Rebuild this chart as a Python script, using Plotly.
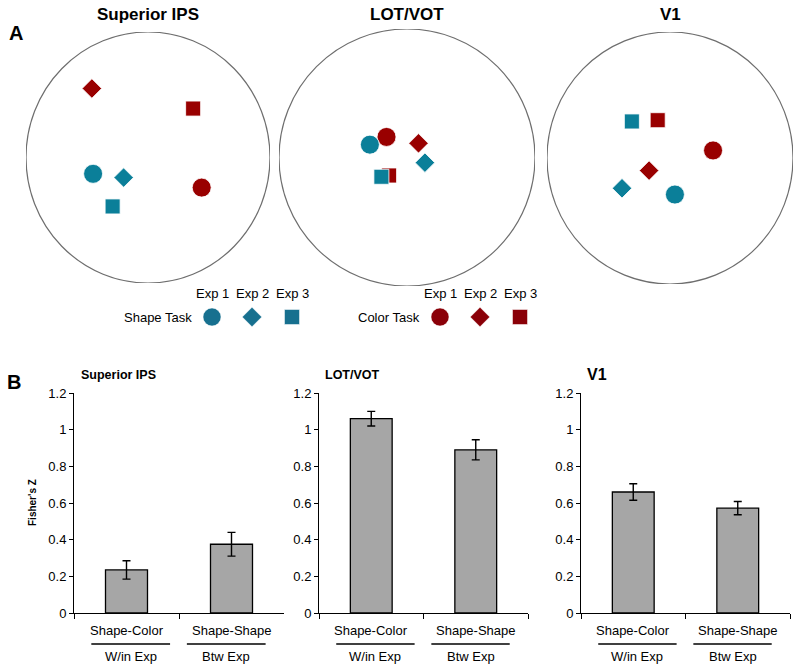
import plotly.graph_objects as go

W, H = 800, 669

# ---------------- data ----------------
regions = ["Superior IPS", "LOT/VOT", "V1"]
exps = ["Exp 1", "Exp 2", "Exp 3"]
tasks = ["Shape Task", "Color Task"]

# MDS coordinates (normalised to the circle radius), order: Exp 1, Exp 2, Exp 3
shape_x = {"Superior IPS": [-0.45, -0.20, -0.29],
           "LOT/VOT": [-0.29, 0.14, -0.20],
           "V1": [0.04, -0.39, -0.31]}
shape_y = {"Superior IPS": [-0.13, -0.16, -0.39],
           "LOT/VOT": [0.10, -0.04, -0.15],
           "V1": [-0.29, -0.24, 0.29]}
color_x = {"Superior IPS": [0.44, -0.46, 0.37],
           "LOT/VOT": [-0.16, 0.09, -0.14],
           "V1": [0.35, -0.17, -0.10]}
color_y = {"Superior IPS": [-0.24, 0.55, 0.39],
           "LOT/VOT": [0.16, 0.11, -0.14],
           "V1": [0.06, -0.10, 0.30]}

categories = ["Shape-Color", "Shape-Shape"]
group_labels = ["W/in Exp", "Btw Exp"]
fisher_z = {"Superior IPS": [0.235, 0.375], "LOT/VOT": [1.06, 0.89], "V1": [0.66, 0.572]}
fisher_err = {"Superior IPS": [0.05, 0.065], "LOT/VOT": [0.04, 0.055], "V1": [0.045, 0.036]}
y_ticks = [0, 0.2, 0.4, 0.6, 0.8, 1, 1.2]

# ---------------- style ----------------
FONT = "Liberation Sans, Arial, sans-serif"
TEAL = "#0b7f99"
TEAL_LEG = "#17708f"
RED = "#990000"
RED_LEG = "#8a0008"
SYMBOLS = ["circle", "diamond", "square"]
SIZES = [19, 15, 15]
LEG_SIZES = [18, 15, 15]


def px(x):
    return x / W


def py(y):
    return 1 - y / H


def label(text, x, y, size=13, xref="paper", xanchor="center", **kw):
    return dict(text=text, x=x, y=y, xref=xref, yref="paper", xanchor=xanchor,
                yanchor="middle", showarrow=False, font=dict(size=size, family=FONT), **kw)


fig = go.Figure()
layout = dict(width=W, height=H, margin=dict(l=0, r=0, t=0, b=0, autoexpand=False),
              autosize=False, paper_bgcolor="white", plot_bgcolor="white",
              showlegend=False, font=dict(family=FONT, color="black"))
shapes = []
annotations = []

# ---------------- panel A: MDS circles ----------------
circle_boxes = [(26, 270, 32, 283), (279, 535, 29, 286), (547, 793, 32, 284)]
for i, reg in enumerate(regions):
    k = i + 1
    x0, x1, y0, y1 = circle_boxes[i]
    layout[f"xaxis{k}"] = dict(domain=[px(x0), px(x1)], range=[-1, 1], visible=False,
                               anchor=f"y{k}", fixedrange=True)
    layout[f"yaxis{k}"] = dict(domain=[py(y1), py(y0)], range=[-1, 1], visible=False,
                               anchor=f"x{k}", fixedrange=True)
    shapes.append(dict(type="circle", xref=f"x{k}", yref=f"y{k}", x0=-1, x1=1, y0=-1, y1=1,
                       line=dict(color="#6e6e6e", width=1.2), layer="below"))
    for xs, ys, col in [(color_x, color_y, RED), (shape_x, shape_y, TEAL)]:
        for j in range(3):
            fig.add_trace(go.Scatter(
                x=[xs[reg][j]], y=[ys[reg][j]], mode="markers",
                xaxis=f"x{k}", yaxis=f"y{k}",
                marker=dict(symbol=SYMBOLS[j], size=SIZES[j], color=col,
                            line=dict(color="white", width=0.8)),
                hoverinfo="skip"))
    annotations.append(label(f"<b>{reg}</b>", px((x0 + x1) / 2), py(15), size=17))

annotations.append(label("<b>A</b>", px(16), py(33), size=20))

# ---------------- legend row ----------------
leg_offset = 5.7
layout["xaxis4"] = dict(domain=[0, 1], range=[-212 / 40, (W - 212) / 40], visible=False,
                        anchor="y4", fixedrange=True)
layout["yaxis4"] = dict(domain=[py(332), py(302)], range=[-1, 1], visible=False,
                        anchor="x4", fixedrange=True)
for t, (task, col, off) in enumerate([(tasks[0], TEAL_LEG, 0), (tasks[1], RED_LEG, leg_offset)]):
    for j in range(3):
        fig.add_trace(go.Scatter(
            x=[off + j], y=[0], mode="markers", xaxis="x4", yaxis="y4",
            marker=dict(symbol=SYMBOLS[j], size=LEG_SIZES[j], color=col,
                        line=dict(color="white", width=0.5)),
            hoverinfo="skip"))
        annotations.append(label(exps[j], off + j, py(294), xref="x4"))
    annotations.append(label(task, off - 0.45, py(317), xref="x4", xanchor="right"))

# ---------------- panel B: bar charts ----------------
bar_boxes = [(74, 284), (319, 528), (581, 790)]
bar_top, bar_bot = 393, 613
title_sizes = [12.5, 12.5, 16]
title_x = [79, 323, 585]
for i, reg in enumerate(regions):
    k = i + 5
    x0, x1 = bar_boxes[i]
    layout[f"xaxis{k}"] = dict(domain=[px(x0), px(x1)], type="category", range=[-0.5, 1.5],
                               showline=True, linecolor="black", linewidth=1,
                               ticks="outside", ticklen=5, tickcolor="black",
                               tickson="boundaries", showticklabels=False, showgrid=False,
                               automargin=False, anchor=f"y{k}", fixedrange=True)
    layout[f"yaxis{k}"] = dict(domain=[py(bar_bot), py(bar_top)], range=[0, 1.2],
                               tickvals=y_ticks, showline=True, linecolor="black", linewidth=1,
                               ticks="outside", ticklen=4, tickcolor="black", showgrid=False,
                               zeroline=False, tickfont=dict(size=13, family=FONT),
                               automargin=False, anchor=f"x{k}", fixedrange=True)
    fig.add_trace(go.Bar(
        x=categories, y=fisher_z[reg], xaxis=f"x{k}", yaxis=f"y{k}", width=0.4,
        marker=dict(color="#a6a6a6", line=dict(color="black", width=1.3)),
        error_y=dict(type="data", array=fisher_err[reg], color="black",
                     thickness=1.4, width=4),
        hoverinfo="skip"))
    for c, cat in enumerate(categories):
        shift = 0.04 if c == 0 else -0.05
        annotations.append(label(cat, c, py(630), xref=f"x{k}"))
        annotations.append(label(group_labels[c], c + shift, py(656), xref=f"x{k}"))
        shapes.append(dict(type="line", xref=f"x{k}", yref="paper",
                           x0=c + shift - 0.375, x1=c + shift + 0.375,
                           y0=py(644), y1=py(644), line=dict(color="black", width=1.3)))
    annotations.append(label(f"<b>{reg}</b>", px(title_x[i]), py(375),
                             size=title_sizes[i], xanchor="left"))

annotations.append(label("<b>B</b>", px(14), py(382), size=20))
annotations.append(label("<b>Fisher's Z</b>", px(32), py(503), size=10, textangle=-90))

layout["shapes"] = shapes
layout["annotations"] = annotations
fig.update_layout(**layout)
fig.write_html("out.html", config={"displayModeBar": False},
               post_script="document.body.style.margin='0';document.body.style.overflow='hidden';")
